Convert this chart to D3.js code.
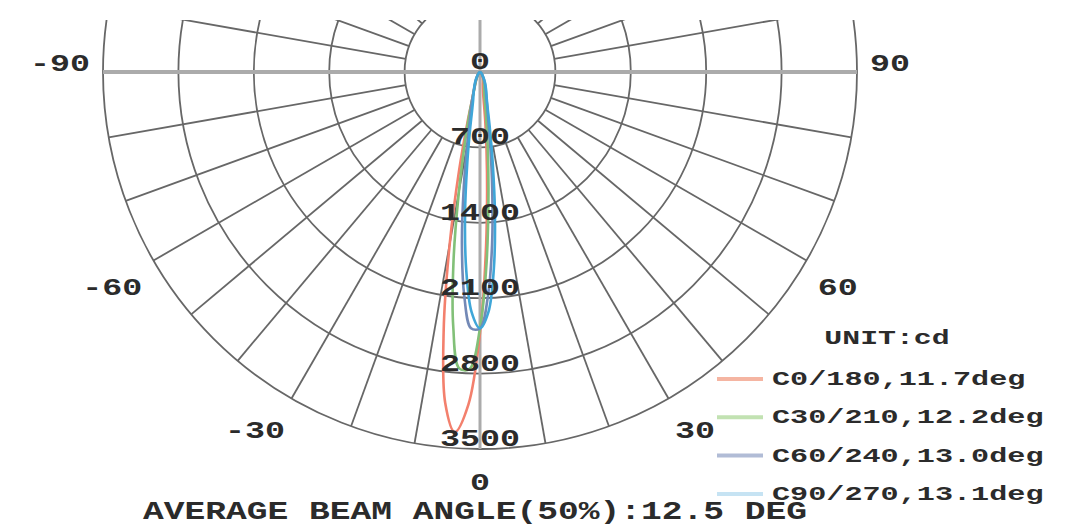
<!DOCTYPE html>
<html>
<head>
<meta charset="utf-8">
<script src="https://cdn.jsdelivr.net/npm/d3@7"></script>
<style>
  html, body { margin: 0; padding: 0; background: #fff; }
  svg { display: block; }
  text { font-family: "Liberation Mono", "DejaVu Sans Mono", monospace; font-weight: bold; fill: #2b2b2b; }
</style>
</head>
<body>
<svg id="chart" width="1069" height="527"></svg>
<script>
// ---- data ----
const angles = [-90,-60,-45,-30,-25,-20,-16,-14,-12,-10,-8,-6,-4,-2,0,2,4,6,8,10,12,14,16,20,25,30,45,60,90];
const c0_180  = [0,5,20,60,90,150,260,480,930,1616,2423,3089,3350,3089,2423,1616,930,480,220,160,130,110,100,80,60,45,15,5,0];
const c30_210 = [0,5,18,55,85,140,260,420,680,1129,1764,2376,2758,2758,2376,1764,1129,680,400,250,190,160,140,110,80,55,18,5,0];
const c60_240 = [0,5,20,65,100,150,260,350,450,680,1084,1606,2088,2381,2381,2088,1606,1084,680,430,320,240,200,150,100,65,20,5,0];
const c90_270 = [0,6,22,70,110,160,220,260,340,520,845,1328,1837,2231,2380,2231,1837,1328,845,520,340,260,220,160,110,70,22,6,0];
const seriesNames = ["C0/180,11.7deg","C30/210,12.2deg","C60/240,13.0deg","C90/270,13.1deg"];
const ringTicks = [0,700,1400,2100,2800,3500];
const angleTicks = [-90,-60,-30,0,30,60,90];
const unitLabel = "UNIT:cd";
const title = "AVERAGE BEAM ANGLE(50%):12.5 DEG";

// ---- styles ----
const curveColors  = ["#f3806d","#82c078","#7389b6","#3fa6d8"];
const legendColors = ["#f5b5a2","#c2e2b2","#b1bcd6","#c6e3f3"];

const svg = d3.select("#chart");
const cx = 480, cy = 72;
const r = d3.scaleLinear().domain([0, 3500]).range([0, 377]);
const toRad = d => d * Math.PI / 180;

function stretch(sel, txt, perChar) {
  sel.text(txt).attr("textLength", txt.length * perChar).attr("lengthAdjust", "spacingAndGlyphs");
  return sel;
}

svg.append("defs").append("clipPath").attr("id", "clip")
  .append("rect").attr("x", 0).attr("y", 20).attr("width", 1069).attr("height", 507);

const g = svg.append("g").attr("transform", `translate(${cx},${cy})`);
const grid = g.append("g").attr("clip-path", "url(#clip)").attr("transform", null);
// clip is in svg coords; wrap grid so clip applies correctly
const gridWrap = svg.append("g").attr("clip-path", "url(#clip)");
const gg = gridWrap.append("g").attr("transform", `translate(${cx},${cy})`);

// rings
gg.selectAll("circle.ring").data(ringTicks.filter(v => v > 0)).join("circle")
  .attr("class", "ring").attr("r", d => r(d))
  .attr("fill", "none").attr("stroke", "#676767").attr("stroke-width", 1.8);

// radial spokes every 10 deg (except main axes)
const spokes = d3.range(0, 360, 10).filter(a => a % 90 !== 0);
gg.selectAll("line.spoke").data(spokes).join("line")
  .attr("class", "spoke")
  .attr("x1", a => r(700) * Math.sin(toRad(a))).attr("y1", a => r(700) * Math.cos(toRad(a)))
  .attr("x2", a => r(3500) * Math.sin(toRad(a))).attr("y2", a => r(3500) * Math.cos(toRad(a)))
  .attr("stroke", "#676767").attr("stroke-width", 1.8);

// main axes (light gray, thicker)
gg.append("line").attr("x1", -r(3500)).attr("x2", r(3500)).attr("y1", 0).attr("y2", 0)
  .attr("stroke", "#ababab").attr("stroke-width", 4);
gg.append("line").attr("x1", 0).attr("x2", 0).attr("y1", -r(3500)).attr("y2", r(3500))
  .attr("stroke", "#ababab").attr("stroke-width", 3);

// curves
const allSeries = [c0_180, c30_210, c60_240, c90_270];
const line = d3.lineRadial()
  .angle(d => Math.PI - toRad(d[0]))
  .radius(d => r(d[1]))
  .curve(d3.curveCatmullRom.alpha(0.5));
const cg = svg.append("g").attr("transform", `translate(${cx},${cy})`);
allSeries.forEach((s, i) => {
  cg.append("path").datum(angles.map((a, k) => [a, s[k]]))
    .attr("d", line).attr("fill", "none")
    .attr("stroke", curveColors[i]).attr("stroke-width", 2.6)
    .attr("stroke-linejoin", "round");
});

// ring labels
const lg = svg.append("g").attr("transform", `translate(${cx},${cy})`);
lg.selectAll("text.ringlab").data(ringTicks).join("text")
  .attr("class", "ringlab")
  .attr("x", 0).attr("y", d => r(d) - 3)
  .attr("text-anchor", "middle").style("font-size", "23px")
  .each(function(d) { stretch(d3.select(this), String(d), 20); });

// angle labels
const labR = 390;
lg.selectAll("text.anglab").data(angleTicks).join("text")
  .attr("class", "anglab")
  .attr("x", d => labR * Math.sin(toRad(d)))
  .attr("y", d => labR * Math.cos(toRad(d)) + (Math.abs(d) === 90 ? -1 : 28))
  .attr("text-anchor", d => d < 0 ? "end" : (d > 0 ? "start" : "middle"))
  .style("font-size", "23px")
  .each(function(d) { stretch(d3.select(this), String(d), 20); });

// legend
const leg = svg.append("g");
stretch(leg.append("text").attr("x", 887).attr("y", 344).attr("text-anchor", "middle").style("font-size", "21px"), unitLabel, 17.9);
seriesNames.forEach((name, i) => {
  const y = 379 + i * 38.3;
  leg.append("line").attr("x1", 717).attr("x2", 763).attr("y1", y).attr("y2", y)
    .attr("stroke", legendColors[i]).attr("stroke-width", 4);
  stretch(leg.append("text").attr("x", 772).attr("y", y + 6).style("font-size", "21px"), name, 18.1);
});

// title
stretch(svg.append("text").attr("x", 143).attr("y", 519).style("font-size", "25px"), title, 20.75);
</script>
</body>
</html>
